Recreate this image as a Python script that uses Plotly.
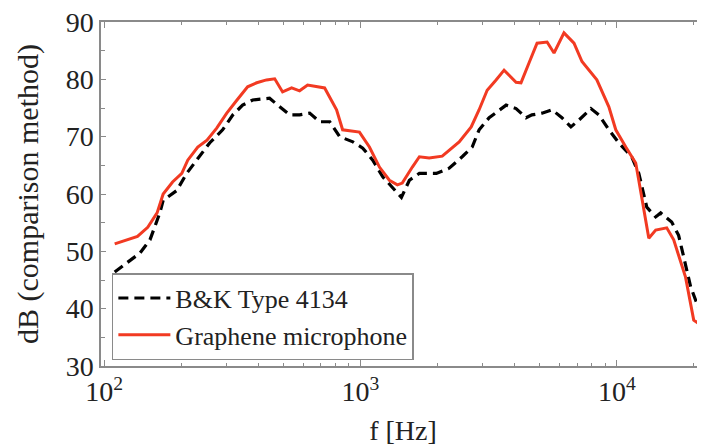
import plotly.graph_objects as go

# B&K Type 4134 (reference microphone)
bk_freq = [110, 123, 138, 151, 165, 170, 192, 210, 230, 258, 290, 318, 347, 380, 442, 483, 529, 579, 634, 693,
           759, 830, 934, 1021, 1117, 1222, 1336, 1445, 1552, 1698, 1977, 2219, 2494, 2728, 2904, 3177, 3700,
           4045, 4425, 4667, 5106, 5589, 6109, 6622, 7119, 7925, 8511, 9311, 10190, 11430, 12180, 12730, 13090,
           14180, 14830, 16370, 17420, 18240, 19410, 20850, 21830]
bk_db = [46.4, 48.0, 49.7, 52.0, 56.7, 58.9, 60.6, 63.6, 65.9, 68.9, 71.2, 73.8, 75.5, 76.4, 76.7, 75.2, 73.8, 73.8,
         74.1, 72.6, 72.6, 70.0, 69.1, 68.0, 65.9, 63.0, 61.0, 59.4, 62.4, 63.6, 63.6, 64.5, 66.5, 68.2, 71.2, 73.3,
         75.5, 74.9, 73.3, 73.8, 74.1, 74.7, 73.3, 71.7, 72.9, 74.9, 73.8, 71.2, 68.9, 66.5, 63.6, 60.2, 57.7, 56.0,
         56.7, 55.1, 52.8, 49.0, 43.8, 40.1, 39.2]

# Graphene microphone
gr_freq = [110, 126, 135, 148, 161, 170, 185, 201, 212, 232, 252, 275, 301, 330, 363, 394, 430, 463, 497, 539,
           579, 622, 674, 725, 807, 852, 991, 1084, 1186, 1297, 1393, 1456, 1594, 1698, 1854, 2085, 2427, 2704,
           2904, 3121, 3381, 3633, 4045, 4229, 4548, 4885, 5346, 5689, 6222, 6808, 7313, 7784, 8358, 9311, 9908,
           10840, 11850, 12180, 12500, 13330, 14180, 15660, 16670, 18540, 19950, 21830]
gr_db = [51.3, 52.2, 52.6, 54.2, 56.7, 60.0, 62.1, 63.6, 65.9, 68.2, 69.4, 71.5, 74.1, 76.4, 78.7, 79.4, 79.9,
         80.1, 77.8, 78.5, 78.0, 79.0, 78.8, 78.5, 74.7, 71.2, 70.8, 68.2, 64.7, 62.4, 61.6, 61.9, 64.7, 66.5,
         66.3, 66.6, 69.1, 71.7, 74.7, 78.1, 79.9, 81.6, 79.5, 79.4, 82.9, 86.3, 86.5, 84.6, 88.1, 86.3, 83.1,
         81.6, 79.9, 75.2, 71.2, 68.2, 65.4, 62.4, 59.5, 52.3, 53.7, 54.1, 52.0, 45.5, 38.0, 36.8]

x_tickvals = [100, 1000, 10000]
x_ticktext = ["10<sup>2</sup>", "10<sup>3</sup>", "10<sup>4</sup>"]
x_minor = [200, 300, 400, 500, 600, 700, 800, 900, 2000, 3000, 4000, 5000, 6000, 7000, 8000, 9000, 20000]
y_tickvals = [30, 40, 50, 60, 70, 80, 90]

FONT = "Liberation Serif"
AXC = "#8a8a8a"

fig = go.Figure()
fig.add_trace(go.Scatter(x=bk_freq, y=bk_db, mode="lines", name="B&K Type 4134",
                         line=dict(color="black", width=3.2, dash="10px,6px")))
fig.add_trace(go.Scatter(x=gr_freq, y=gr_db, mode="lines", name="Graphene microphone",
                         line=dict(color="#f23a22", width=3)))

# page body has an 8px margin, so the figure is offset to line up with the 705x446 window
fig.update_layout(
    width=697, height=438,
    margin=dict(l=93, r=0, t=14, b=80, autoexpand=False),
    paper_bgcolor="white", plot_bgcolor="white",
    font=dict(family=FONT, color="#222222", size=27),
    showlegend=True,
    legend=dict(x=0.018, y=0.27, xanchor="left", yanchor="top",
                bordercolor=AXC, borderwidth=1.5, bgcolor="white",
                font=dict(family=FONT, size=26, color="#222222"),
                tracegroupgap=0, itemwidth=52),
)
fig.update_xaxes(
    type="log", range=[1.988, 4.344], automargin=True,
    tickmode="array", tickvals=x_tickvals, ticktext=x_ticktext,
    ticks="inside", ticklen=6, tickwidth=1.2, tickcolor=AXC,
    minor=dict(tickmode="array", tickvals=x_minor, ticks="inside", ticklen=3, tickwidth=1.2, tickcolor=AXC, showgrid=False),
    showline=True, linecolor=AXC, linewidth=1.5, mirror="allticks",
    showgrid=False, zeroline=False, ticklabeloverflow="allow",
    tickfont=dict(family=FONT, size=28),
    title=dict(text="f [Hz]", font=dict(family=FONT, size=28), standoff=22),
)
fig.update_yaxes(
    range=[30, 90], automargin=False,
    tickmode="array", tickvals=y_tickvals,
    ticks="inside", ticklen=5, tickwidth=1.2, tickcolor=AXC,
    minor=dict(dtick=5, ticks="inside", ticklen=4, tickwidth=1.2, tickcolor=AXC, showgrid=False),
    showline=True, linecolor=AXC, linewidth=1.5, mirror="allticks",
    showgrid=False, zeroline=False, ticklabeloverflow="allow",
    tickfont=dict(family=FONT, size=28),
    title=dict(text="dB (comparison method)", font=dict(family=FONT, size=30), standoff=18),
)

fig.write_html("out.html")
